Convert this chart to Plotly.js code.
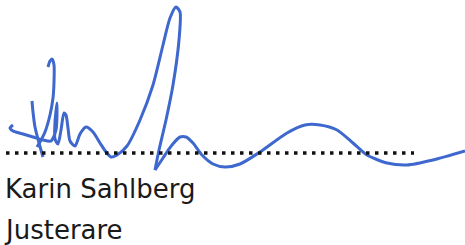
<!DOCTYPE html>
<html>
<head>
<meta charset="utf-8">
<script src="https://cdn.plot.ly/plotly-3.0.1.min.js"></script>
<style>html,body{margin:0;padding:0;background:#fff;}#chart{width:465px;height:245px;}</style>
</head>
<body>
<div id="chart"></div>
<script>
// Signature strokes (pixel space)
const stemX = [32, 33, 35, 39, 43];
const stemY = [101, 112, 127, 143, 157];

const hookX = [48, 50, 52, 54, 54, 53, 50, 45, 40, 37];
const hookY = [67, 61, 59, 65, 82, 98, 115, 132, 142, 147];

const mainX = [13, 10, 13, 23, 33, 43, 51, 56, 57, 55, 55, 58, 61, 64, 66, 68, 70, 75, 80, 86, 93, 100, 106, 111, 117, 127, 140, 153, 163, 170, 176, 180, 179, 173, 166, 159, 155];
const mainY = [125, 128, 131, 134, 137, 140, 141, 130, 103, 122, 139, 144, 130, 113, 115, 128, 141, 146, 134, 127, 132, 143, 152, 157, 155, 146, 120, 85, 45, 18, 7, 12, 40, 85, 120, 150, 170];

const tailX = [155, 163, 172, 180, 186, 193, 202, 213, 225, 240, 260, 287, 305, 320, 337, 353, 367, 387, 407, 433, 465];
const tailY = [170, 158, 145, 137, 137, 143, 155, 164, 167, 164, 152, 133, 125, 125, 130, 143, 155, 163, 165, 160, 151];

// Dotted signature rule
const ruleX = [6, 414];
const ruleY = [153, 153];

// Printed texts
const labels = ["Karin Sahlberg", "Justerare"];
const labelX = [3, 2];
const labelY = [189, 230];

const ink = 'rgb(62,104,205)';
const strokes = [[stemX, stemY], [hookX, hookY], [mainX, mainY], [tailX, tailY]];
const traces = strokes.map(s => ({
  x: s[0], y: s[1], type: 'scatter', mode: 'lines',
  line: {color: ink, width: 3, shape: 'spline', smoothing: 0.7},
  hoverinfo: 'skip'
}));
traces.push({
  x: ruleX, y: ruleY, type: 'scatter', mode: 'lines',
  line: {color: '#111', width: 3.5, dash: '3.5px,5.5px'},
  hoverinfo: 'skip'
});

const annotations = labels.map((t, i) => ({
  text: t, x: labelX[i], y: labelY[i], xref: 'x', yref: 'y',
  xanchor: 'left', yanchor: 'middle', showarrow: false,
  font: {family: 'DejaVu Sans, sans-serif', size: 26, color: '#1a1a1a'}
}));

Plotly.newPlot('chart', traces, {
  width: 465, height: 245,
  margin: {l: 0, r: 0, t: 0, b: 0},
  paper_bgcolor: '#fff', plot_bgcolor: '#fff',
  showlegend: false,
  xaxis: {range: [0, 465], visible: false, fixedrange: true},
  yaxis: {range: [245, 0], visible: false, fixedrange: true},
  annotations: annotations
}, {staticPlot: true, displayModeBar: false});
</script>
</body>
</html>
